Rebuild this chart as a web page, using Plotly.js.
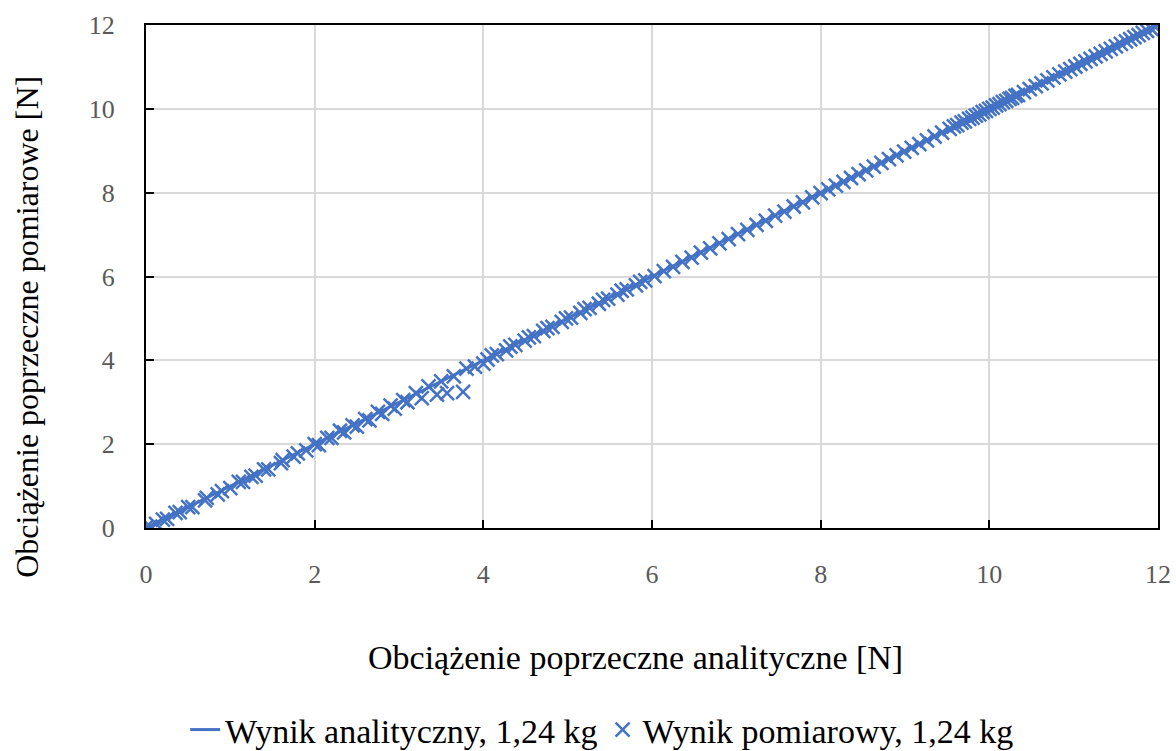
<!DOCTYPE html>
<html>
<head>
<meta charset="utf-8">
<script src="https://cdn.plot.ly/plotly-3.0.1.min.js"></script>
<style>html,body{margin:0;padding:0;background:#fff;}#chart{width:1176px;height:751px;}</style>
</head>
<body>
<div id="chart"></div>
<script>
// Analytical result (line)
const analyticX = [0, 2, 4, 6, 8, 10, 12];
const analyticY = [0, 2, 4, 6, 8, 10, 12];

const measuredX = [
  0, 0.05, 0.12, 0.2, 0.25, 0.35, 0.4, 0.5, 0.55, 0.7, 0.72, 0.85, 0.9, 1.0, 1.1, 1.15, 1.25, 1.3,
  1.4, 1.45, 1.6, 1.62, 1.75, 1.8, 1.9, 2.0, 2.05, 2.15, 2.2, 2.3, 2.35, 2.45, 2.5, 2.6, 2.65,
  2.75, 2.8, 2.9, 2.95, 3.05, 3.1, 3.2, 3.27, 3.35, 3.45, 3.5, 3.57, 3.65, 3.76, 3.8, 3.9, 4.0,
  4.05, 4.1, 4.16, 4.27, 4.32, 4.38, 4.49, 4.54, 4.6, 4.71, 4.76, 4.82, 4.93, 4.98, 5.04, 5.15,
  5.2, 5.26, 5.37, 5.42, 5.48, 5.59, 5.64, 5.7, 5.81, 5.86, 5.92, 6.03, 6.14, 6.25, 6.36, 6.47,
  6.58, 6.69, 6.8, 6.91, 7.02, 7.13, 7.24, 7.35, 7.46, 7.57, 7.68, 7.79, 7.9,
  8.0, 8.09, 8.18, 8.27, 8.36, 8.45, 8.54, 8.63, 8.72, 8.81, 8.9, 8.99, 9.08, 9.17, 9.26, 9.35,
  9.44, 9.53, 9.58, 9.62, 9.67, 9.71, 9.76, 9.8, 9.84, 9.88, 9.92, 9.96, 10.0, 10.04, 10.08,
  10.12, 10.16, 10.2, 10.24, 10.27, 10.31, 10.34, 10.41, 10.48, 10.55, 10.62, 10.69, 10.76,
  10.83, 10.9, 10.96, 11.02, 11.08, 11.14, 11.2, 11.26, 11.32, 11.38, 11.44, 11.5, 11.56,
  11.62, 11.67, 11.72, 11.77, 11.82, 11.87, 11.92, 11.97
];
const measuredY = [
  0.02, 0.03, 0.1, 0.2, 0.22, 0.36, 0.38, 0.5, 0.5, 0.66, 0.72, 0.8, 0.88, 0.95, 1.1, 1.1, 1.22, 1.25,
  1.4, 1.4, 1.55, 1.62, 1.7, 1.78, 1.85, 2.0, 1.98, 2.15, 2.15, 2.32, 2.28, 2.45, 2.42, 2.6, 2.57,
  2.77, 2.72, 2.92, 2.85, 3.05, 3.0, 3.22, 3.1, 3.38, 3.18, 3.5, 3.22, 3.62, 3.25, 3.8, 3.85, 3.92,
  4.02, 4.12, 4.15, 4.24, 4.33, 4.37, 4.47, 4.55, 4.58, 4.7, 4.77, 4.8, 4.92, 5.0, 5.02, 5.13,
  5.22, 5.25, 5.35, 5.44, 5.47, 5.57, 5.66, 5.69, 5.79, 5.87, 5.91, 6.01, 6.13, 6.23, 6.35, 6.45,
  6.57, 6.67, 6.79, 6.89, 7.01, 7.11, 7.23, 7.33, 7.45, 7.55, 7.67, 7.77, 7.89,
  7.99, 8.08, 8.17, 8.26, 8.35, 8.44, 8.53, 8.62, 8.71, 8.8, 8.89, 8.98, 9.07, 9.16, 9.25, 9.34,
  9.43, 9.52, 9.58, 9.61, 9.67, 9.7, 9.76, 9.79, 9.84, 9.87, 9.92, 9.95, 10.0, 10.03, 10.08,
  10.11, 10.16, 10.19, 10.24, 10.26, 10.31, 10.33, 10.4, 10.47, 10.54, 10.61, 10.68, 10.75,
  10.82, 10.89, 10.95, 11.01, 11.07, 11.13, 11.19, 11.25, 11.31, 11.37, 11.43, 11.49, 11.55,
  11.61, 11.66, 11.71, 11.76, 11.81, 11.86, 11.91, 11.95
];

const tickVals = [0, 2, 4, 6, 8, 10, 12];
const tickText = ['0', '2', '4', '6', '8', '10', '12'];

const seriesNames = ['Wynik analityczny, 1,24 kg', 'Wynik pomiarowy, 1,24 kg'];
const xTitle = 'Obciążenie poprzeczne analityczne [N]';
const yTitle = 'Obciążenie poprzeczne pomiarowe [N]';

const blue = '#4472C4';
const serif = 'Times New Roman, Liberation Serif, DejaVu Serif, serif';

const traces = [
  {
    x: analyticX, y: analyticY, name: seriesNames[0],
    type: 'scatter', mode: 'lines',
    line: {color: blue, width: 3}
  },
  {
    x: measuredX, y: measuredY, name: seriesNames[1],
    type: 'scatter', mode: 'markers',
    marker: {symbol: 'x-thin', size: 14, color: blue, line: {color: blue, width: 2.5}}
  }
];

const axisCommon = {
  range: [0, 12], tickvals: tickVals, ticktext: tickText,
  showgrid: true, gridcolor: '#D9D9D9', gridwidth: 2,
  zeroline: false, showline: true, linecolor: '#000', linewidth: 2,
  ticks: 'inside', ticklen: 8, tickwidth: 2, tickcolor: '#000',
  mirror: true,
  tickfont: {family: serif, size: 26, color: '#595959'},
  fixedrange: true, automargin: false
};

const layout = {
  width: 1176, height: 751,
  margin: {l: 146, r: 18, t: 25, b: 223, autoexpand: false},
  paper_bgcolor: '#fff', plot_bgcolor: '#fff',
  font: {family: serif, color: '#000'},
  showlegend: true,
  xaxis: Object.assign({}, axisCommon, {ticklabelstandoff: 22}),
  yaxis: Object.assign({}, axisCommon, {ticklabelstandoff: 24}),
  legend: {
    orientation: 'h', x: 0.512, xref: 'container', xanchor: 'center',
    y: 0.028, yref: 'container', yanchor: 'middle',
    font: {family: serif, size: 34, color: '#000'},
    itemwidth: 30, tracegroupgap: 0
  },
  annotations: [
    {text: xTitle, xref: 'paper', yref: 'paper', x: 0.484, y: -0.2565,
     xanchor: 'center', yanchor: 'middle', showarrow: false,
     font: {family: serif, size: 34, color: '#000'}},
    {text: yTitle, xref: 'paper', yref: 'paper', x: -0.1176, y: 0.4,
     xanchor: 'center', yanchor: 'middle', showarrow: false, textangle: -90,
     font: {family: serif, size: 32, color: '#000'}}
  ]
};

Plotly.newPlot('chart', traces, layout, {displayModeBar: false, staticPlot: true});
</script>
</body>
</html>
